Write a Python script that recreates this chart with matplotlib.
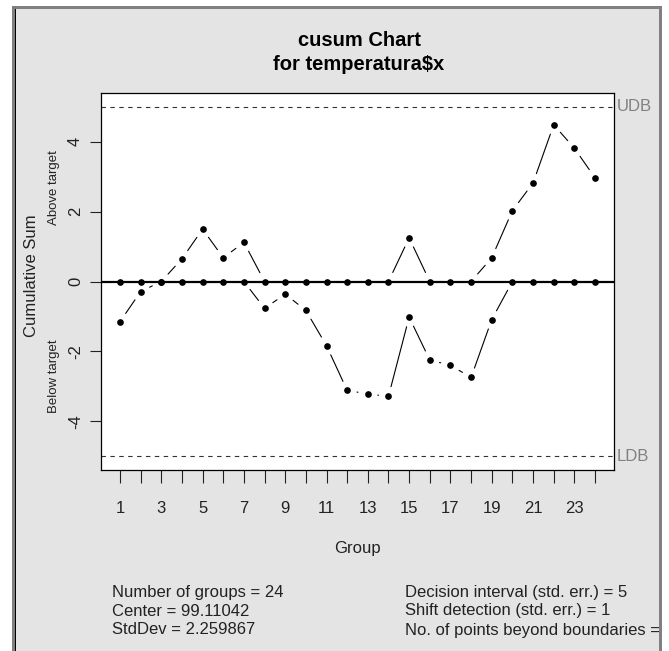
import numpy as np
import matplotlib
matplotlib.use("Agg")
import matplotlib.pyplot as plt
from matplotlib.patches import Rectangle
from matplotlib.transforms import blended_transform_factory

# cusum values
groups = np.arange(1, 25)
above = [0, 0, 0, 0.65, 1.50, 0.68, 1.12, 0, 0, 0, 0, 0,
         0, 0, 1.25, 0, 0, 0, 0.68, 2.03, 2.82, 4.49, 3.82, 2.97]
below = [-1.15, -0.29, 0, 0, 0, 0, 0, -0.77, -0.36, -0.83, -1.84, -3.12,
         -3.22, -3.29, -1.02, -2.25, -2.40, -2.75, -1.09, 0, 0, 0, 0, 0]
decision = 5
stats_left = ["Number of groups = 24", "Center = 99.11042", "StdDev = 2.259867"]
stats_right = ["Decision interval (std. err.) = 5",
               "Shift detection (std. err.) = 1",
               "No. of points beyond boundaries = 0"]

W, H = 669, 651
FS = 12
plt.rcParams['font.family'] = ['Liberation Sans', 'DejaVu Sans']


def px(x, y):
    """pixel coords (from top-left) -> figure fraction"""
    return x / W, 1 - y / H


def drawSeries(ax, xs, ys):
    # R type="b": points joined by lines that stop short of the points
    for i in range(len(xs) - 1):
        ax.annotate("", xy=(xs[i + 1], ys[i + 1]), xytext=(xs[i], ys[i]),
                    arrowprops=dict(arrowstyle="-", color="black", lw=0.8,
                                    shrinkA=7.2, shrinkB=7.2), zorder=2)
    ax.plot(xs, ys, "o", color="black", markersize=3.8, zorder=4)


def main():
    fig = plt.figure(figsize=(W / 100, H / 100), dpi=100)
    fig.patch.set_facecolor("white")
    # gray panel with frame
    fig.patches.append(Rectangle(px(12, H), (662 - 12) / W, (H - 6) / H,
                                 transform=fig.transFigure, facecolor="#e4e4e4",
                                 edgecolor="none", zorder=-5))
    fig.patches.append(Rectangle(px(12, H), 3 / W, (H - 6) / H, transform=fig.transFigure,
                                 facecolor="#808080", edgecolor="none", zorder=10))
    fig.patches.append(Rectangle(px(15, H), 1.2 / W, (H - 9) / H, transform=fig.transFigure,
                                 facecolor="black", edgecolor="none", zorder=10))
    fig.patches.append(Rectangle(px(12, 9), (662 - 12) / W, 3 / H, transform=fig.transFigure,
                                 facecolor="#808080", edgecolor="none", zorder=10))
    fig.patches.append(Rectangle(px(659, H), 3 / W, (H - 6) / H, transform=fig.transFigure,
                                 facecolor="#808080", edgecolor="none", zorder=10))
    fig.patches.append(Rectangle(px(662, H), 7 / W, 1, transform=fig.transFigure,
                                 facecolor="white", edgecolor="none", zorder=10))

    l, b = px(101, 470)
    r, t = px(614, 93)
    ax = fig.add_axes([l, b, r - l, t - b])
    ax.set_facecolor("white")
    for s in ax.spines.values():
        s.set_linewidth(0.9)

    ax.axhline(0, color="black", lw=1.6, zorder=3)
    ax.axhline(decision, color="#333333", lw=0.8, ls=(0, (4, 4)), zorder=1)
    ax.axhline(-decision, color="#333333", lw=0.8, ls=(0, (4, 4)), zorder=1)

    drawSeries(ax, groups, above)
    drawSeries(ax, groups, below)

    ax.set_xlim(0.08, 24.92)
    ax.set_ylim(-5.4, 5.4)
    ax.set_xticks(groups)
    ax.set_xticklabels([str(g) if g % 2 == 1 else "" for g in groups])
    ax.set_yticks([-4, -2, 0, 2, 4])
    ax.set_yticklabels(["-4", "-2", "0", "2", "4"], rotation=90, va="center")
    ax.tick_params(axis="both", width=0.8, labelsize=FS,
                   colors="#222222", direction="out")
    ax.tick_params(axis="x", length=9.5, pad=12.5)
    ax.tick_params(axis="y", length=8, pad=5)

    # UDB / LDB labels
    tr = blended_transform_factory(ax.transAxes, ax.transData)
    ax.text(1.005, decision, "UDB", transform=tr, ha="left", va="center",
            fontsize=FS, color="#808080", clip_on=False)
    ax.text(1.005, -decision, "LDB", transform=tr, ha="left", va="center",
            fontsize=FS, color="#808080", clip_on=False)

    tf = blended_transform_factory(fig.transFigure, ax.transData)
    ax.text(54 / W, 2.7, "Above target", transform=tf, rotation=90,
            ha="center", va="center", fontsize=9.5, color="#222222")
    ax.text(54 / W, -2.7, "Below target", transform=tf, rotation=90,
            ha="center", va="center", fontsize=9.5, color="#222222")
    fig.text(*px(31, 276), "Cumulative Sum", rotation=90, ha="center",
             va="center", fontsize=FS, color="#222222")
    fig.text(*px(357, 548), "Group", ha="center", va="center",
             fontsize=FS, color="#222222")

    fig.text(*px(359, 40), "cusum Chart", ha="center", va="center",
             fontsize=14.5, fontweight="bold")
    fig.text(*px(359, 65), "for temperatura$x", ha="center", va="center",
             fontsize=14.5, fontweight="bold")

    for i, (a, c) in enumerate(zip(stats_left, stats_right)):
        y = 592 + 19 * i
        fig.text(*px(112, y), a, ha="left", va="center", fontsize=FS, color="#222222")
        fig.text(*px(405, y), c, ha="left", va="center", fontsize=FS, color="#222222")

    fig.savefig("out.png", dpi=100)


if __name__ == '__main__':
    main()
